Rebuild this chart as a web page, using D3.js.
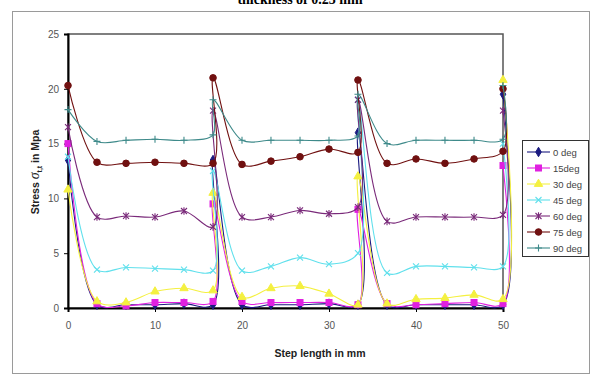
<!DOCTYPE html>
<html>
<head>
<meta charset="utf-8">
<script src="https://cdn.jsdelivr.net/npm/d3@7/dist/d3.min.js"></script>
<style>
  body { margin: 0; background: #fff; }
  text { font-family: "Liberation Sans", Arial, sans-serif; }
</style>
</head>
<body>
<svg id="chart" width="594" height="382"></svg>
<script>
// step positions, the jump points appear twice (end of a step, start of the next)
const steps = [0, 3.33, 6.67, 10, 13.33, 16.67, 16.67, 20, 23.33, 26.67, 30, 33.33, 33.33,
    36.67, 40, 43.33, 46.67, 50, 50];

const names = ["0 deg", "15deg", "30 deg", "45 deg", "60 deg", "75 deg", "90 deg"];

const deg0  = [13.5, 0.3, 0.3, 0.3, 0.4, 0.3, 13.5, 0.3, 0.3, 0.3, 0.4, 0.3, 16.0, 0.3, 0.3, 0.3, 0.3, 0.3, 19.5];
const deg15 = [15.0, 0.4, 0.2, 0.5, 0.5, 0.6, 9.5, 0.6, 0.5, 0.5, 0.5, 0.3, 9.0, 0.4, 0.3, 0.4, 0.5, 0.4, 13.0];
const deg30 = [10.8, 0.6, 0.5, 1.5, 1.8, 1.6, 10.5, 1.0, 1.8, 2.0, 1.3, 0.3, 12.0, 0.4, 0.8, 0.9, 1.2, 0.8, 20.8];
const deg45 = [13.8, 3.5, 3.7, 3.6, 3.5, 3.4, 12.5, 3.4, 3.8, 4.6, 4.0, 5.0, 19.0, 3.2, 3.8, 3.8, 3.7, 3.8, 15.0];
const deg60 = [16.5, 8.3, 8.4, 8.3, 8.85, 7.4, 18.0, 8.3, 8.3, 8.9, 8.6, 9.2, 19.0, 7.9, 8.3, 8.3, 8.3, 8.5, 18.0];
const deg75 = [20.3, 13.3, 13.2, 13.3, 13.2, 13.2, 21.0, 13.1, 13.4, 13.8, 14.5, 14.2, 20.8, 13.2, 13.6, 13.2, 13.6, 14.3, 20.0];
const deg90 = [18.1, 15.2, 15.3, 15.4, 15.3, 15.8, 19.0, 15.3, 15.3, 15.3, 15.3, 15.7, 19.5, 15.0, 15.3, 15.3, 15.3, 15.4, 20.3];

const seriesValues = [deg0, deg15, deg30, deg45, deg60, deg75, deg90];
const colors = ["#1a1a80", "#e020e0", "#f4f040", "#60e0ec", "#7a2a7a", "#701010", "#3e8a8a"];
const markers = ["diamond", "square", "triangle", "x", "star", "circle", "plus"];

const xTicks = [0, 10, 20, 30, 40, 50];
const yTicks = [0, 5, 10, 15, 20, 25];

const svg = d3.select("#chart");

// outer chart frame and the clipped title above it
svg.append("text")
    .attr("x", 300).attr("y", 4)
    .attr("text-anchor", "middle")
    .style("font-family", "'Liberation Serif', serif")
    .style("font-weight", "bold")
    .style("font-size", "14px")
    .text("thickness of 0.25 mm");

svg.append("rect")
    .attr("x", 12.5).attr("y", 11.5)
    .attr("width", 577).attr("height", 362)
    .attr("fill", "#fff")
    .attr("stroke", "#9a9a9a");

const x = d3.scaleLinear().domain([0, 50]).range([68, 503]);
const y = d3.scaleLinear().domain([0, 25]).range([308, 34]);

// plot area border (top/right)
svg.append("rect")
    .attr("x", x(0)).attr("y", y(25))
    .attr("width", x(50) - x(0)).attr("height", y(0) - y(25))
    .attr("fill", "none")
    .attr("stroke", "#555")
    .attr("stroke-width", 1.5);

const xAxis = svg.append("g")
    .attr("transform", `translate(0,${y(0)})`)
    .call(d3.axisBottom(x).tickValues(xTicks).tickSize(4).tickPadding(10));
const yAxis = svg.append("g")
    .attr("transform", `translate(${x(0)},0)`)
    .call(d3.axisLeft(y).tickValues(yTicks).tickSize(4).tickPadding(5));

[xAxis, yAxis].forEach(g => {
    g.select(".domain").attr("stroke", "#000").attr("stroke-width", 2);
    g.selectAll(".tick line").attr("stroke", "#000");
    g.selectAll(".tick text").attr("fill", "#555").style("font-size", "10px");
});

// axis titles
svg.append("text")
    .attr("x", 320).attr("y", 357)
    .attr("text-anchor", "middle")
    .style("font-weight", "bold").style("font-size", "10.5px")
    .attr("fill", "#222")
    .text("Step length in mm");

const yTitle = svg.append("text")
    .attr("transform", "translate(39,172) rotate(-90)")
    .attr("text-anchor", "middle")
    .style("font-weight", "bold").style("font-size", "10.5px")
    .attr("fill", "#222");
yTitle.append("tspan").text("Stress  ");
yTitle.append("tspan").style("font-family", "'Liberation Serif', serif")
    .style("font-style", "italic").style("font-size", "14px").style("font-weight", "normal").text("σ");
yTitle.append("tspan").attr("dy", 3).style("font-size", "7px").text("t,t");
yTitle.append("tspan").attr("dy", -3).text("  in  Mpa");

// marker drawing
function drawMarker(g, type, color, cx, cy) {
    if (type === "diamond") {
        g.append("path").attr("d", d3.symbol(d3.symbolDiamond, 26)())
            .attr("transform", `translate(${cx},${cy})`).attr("fill", color).attr("stroke", color);
    } else if (type === "square") {
        g.append("rect").attr("x", cx - 3).attr("y", cy - 3).attr("width", 6).attr("height", 6)
            .attr("fill", color).attr("stroke", color);
    } else if (type === "triangle") {
        g.append("path").attr("d", d3.symbol(d3.symbolTriangle, 30)())
            .attr("transform", `translate(${cx},${cy})`).attr("fill", color).attr("stroke", color);
    } else if (type === "circle") {
        g.append("circle").attr("cx", cx).attr("cy", cy).attr("r", 3.3)
            .attr("fill", color).attr("stroke", color);
    } else {
        const r = 3;
        let d = "";
        if (type === "x" || type === "star") d += `M${cx - r},${cy - r}L${cx + r},${cy + r}M${cx - r},${cy + r}L${cx + r},${cy - r}`;
        if (type === "star") d += `M${cx},${cy - r - 0.8}L${cx},${cy + r + 0.8}`;
        if (type === "plus") d += `M${cx - r - 0.5},${cy}L${cx + r + 0.5},${cy}M${cx},${cy - r - 0.5}L${cx},${cy + r + 0.5}`;
        g.append("path").attr("d", d).attr("stroke", color).attr("stroke-width", 1.1).attr("fill", "none");
    }
}

const line = d3.line()
    .x(d => x(d[0]))
    .y(d => y(d[1]))
    .curve(d3.curveCatmullRom.alpha(0.5));

const plot = svg.append("g");
seriesValues.forEach((vals, i) => {
    const pts = vals.map((v, j) => [steps[j], v]);
    const g = plot.append("g");
    g.append("path")
        .datum(pts)
        .attr("d", line)
        .attr("fill", "none")
        .attr("stroke", colors[i])
        .attr("stroke-width", 1.1);
    pts.forEach(p => drawMarker(g, markers[i], colors[i], x(p[0]), y(p[1])));
});

// legend
const legend = svg.append("g");
legend.append("rect")
    .attr("x", 522.5).attr("y", 140.5)
    .attr("width", 66).attr("height", 116)
    .attr("fill", "#fff")
    .attr("stroke", "#333");
names.forEach((name, i) => {
    const ly = 152 + i * 16;
    legend.append("line")
        .attr("x1", 527).attr("x2", 550)
        .attr("y1", ly).attr("y2", ly)
        .attr("stroke", colors[i]).attr("stroke-width", 1.1);
    drawMarker(legend, markers[i], colors[i], 538.5, ly);
    legend.append("text")
        .attr("x", 553).attr("y", ly + 3.5)
        .style("font-size", "9.5px")
        .attr("fill", "#444")
        .text(name);
});
</script>
</body>
</html>
